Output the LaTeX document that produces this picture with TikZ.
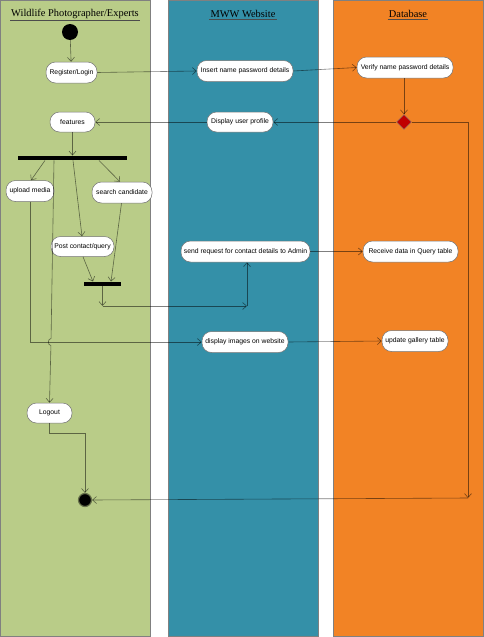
\documentclass[tikz,border=0pt]{standalone}
\usepackage{fontspec}
\setmainfont{Liberation Serif}
\setsansfont{Liberation Sans}
\usetikzlibrary{arrows.meta,shapes.geometric,calc}
\definecolor{lgreen}{RGB}{185,204,136}
\definecolor{lblue}{RGB}{52,144,168}
\definecolor{lorange}{RGB}{242,131,37}
\definecolor{dred}{RGB}{192,0,0}
\tikzset{
  lane/.style={draw=black!50, line width=0.6pt},
  act/.style={draw=black!55, fill=white, rounded corners=9.5pt, line width=0.5pt,
     font=\sffamily\fontsize{6.8}{8}\selectfont, inner sep=0pt, minimum height=21pt},
  bar/.style={fill=black, draw=none},
  flow/.style={draw=black, draw opacity=0.5, line width=0.6pt},
  tip/.style={-{Straight Barb[length=4pt,width=7pt]}},
  title/.style={font=\fontsize{10.4}{12}\selectfont, inner sep=1pt}
}
\begin{document}
\begin{tikzpicture}[x=1pt,y=-1pt]
\useasboundingbox (0,0) rectangle (484,637);
% lanes
\fill[white] (0,0) rectangle (484,637);
\draw[lane, fill=lgreen] (0.3,0.3) rectangle (150,636);
\draw[lane, fill=lblue] (168,0.3) rectangle (318,636);
\draw[lane, fill=lorange] (333,0.3) rectangle (483.5,636);
% titles
\node[title] (t1) at (75,14) {Wildlife Photographer/Experts};
\node[title] (t2) at (243,14) {MWW Website};
\node[title] (t3) at (408,14) {Database};
\foreach \t in {t1,t2,t3}{\draw[black!70, line width=0.5pt] (\t.south west) -- (\t.south east);}
% nodes
\node[circle, fill=black, minimum size=16pt, inner sep=0pt] (start) at (70,32) {};
\node[act, minimum width=51pt] (reg) at (71.5,72.5) {Register/Login};
\node[act, minimum width=96pt] (ins) at (245,71) {Insert name password details};
\node[act, minimum width=96pt] (ver) at (405,67.5) {Verify name password details};
\node[diamond, fill=dred, draw=black!50, line width=0.3pt, minimum size=15pt, inner sep=0pt] (dia) at (404,122) {};
\node[act, minimum width=66pt, minimum height=20pt] (disp) at (240,122) {Display user profile};
\node[act, minimum width=45pt, minimum height=20pt] (feat) at (72.5,122) {features};
\node[bar, minimum width=109pt, minimum height=4.5pt, inner sep=0pt] (fork) at (72.5,158) {};
\node[act, minimum width=48pt] (upl) at (30,191) {upload media};
\node[act, minimum width=60pt] (srch) at (122,192.5) {search candidate};
\node[act, minimum width=63pt, minimum height=20pt] (post) at (82.5,246.5) {Post contact/query};
\node[bar, minimum width=37pt, minimum height=4.5pt, inner sep=0pt] (join) at (102.5,284) {};
\node[act, minimum width=129pt] (send) at (245.5,251.5) {send request for contact details to Admin};
\node[act, minimum width=95pt] (recv) at (410.5,251.5) {Receive data in Query table};
\node[act, minimum width=86pt] (dimg) at (245,342) {display images on website};
\node[act, minimum width=66pt] (upd) at (415,341) {update gallery table};
\node[act, minimum width=45pt, minimum height=20pt] (logout) at (49.5,413) {Logout};
\node[circle, fill=black, draw=black!45!lgreen, line width=1.2pt, minimum size=13pt, inner sep=0pt] (end) at (85,500) {};
% coordinates
\coordinate (c1) at (102.5,306);
\coordinate (c2) at (247,306);
\coordinate (c3) at (468,498);
% edges
\draw[flow, tip] (start) -- (reg);
\draw[flow, tip] (reg.east) -- (ins.west);
\draw[flow, tip] (ins.east) -- (ver.west);
\draw[flow, tip] (ver.south -| dia) -- (dia.north);
\draw[flow, tip] (dia.west) -- (disp.east);
\draw[flow, tip] (disp.west) -- (feat.east);
\draw[flow, tip] (feat.south) -- (feat.south |- fork.north);
\draw[flow, tip] ([xshift=-27.5pt]fork.south) -- ([xshift=1pt]upl.north);
\draw[flow, tip] ([xshift=0.5pt]fork.south) -- ([xshift=-0.5pt]post.north);
\draw[flow, tip] ([xshift=26.5pt]fork.south) -- ([xshift=-2pt]srch.north);
\draw[flow, tip] ([xshift=-18.5pt]fork.south) -- (51.06,338.5) .. controls (47.5,338.5) and (47.5,345.5) .. (50.94,345.5) -- (logout.north);
\draw[flow, tip] (upl.south) |- (dimg.west);
\draw[flow, tip] ([xshift=0.5pt]post.south) -- ([xshift=-9.5pt]join.north);
\draw[flow, tip] ([xshift=-0.5pt]srch.south) -- ([xshift=8.5pt]join.north);
\draw[flow, tip] (join.south) -- (c1);
\draw[flow, tip] (c1) -- (c2);
\draw[flow, tip] (c2) -- ([xshift=1.5pt]send.south);
\draw[flow, tip] (send.east) -- (recv.west);
\draw[flow, tip] (dimg.east) -- (upd.west);
\draw[flow, tip] (logout.south) -- ++(0,10) -| (end.north);
\draw[flow, tip] (dia.east) -| (c3);
\draw[flow, tip] (c3) -- (end.east);
\end{tikzpicture}
\end{document}
